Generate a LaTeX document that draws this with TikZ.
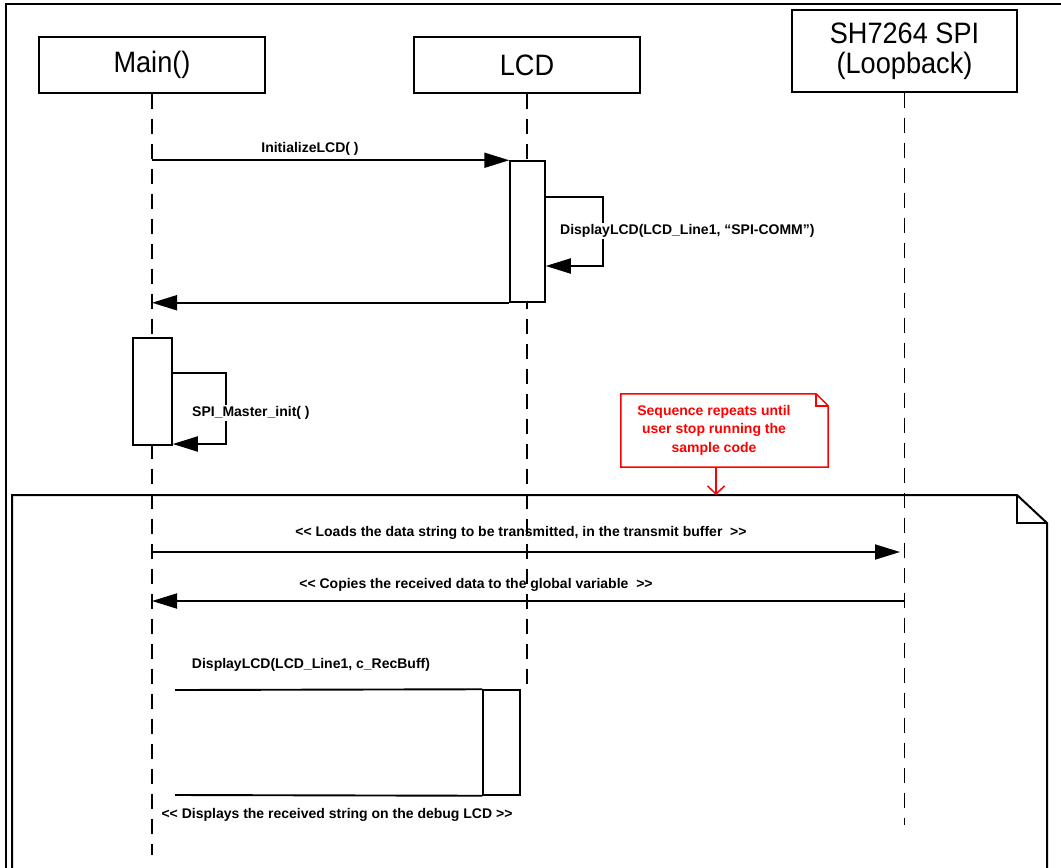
\documentclass[tikz,border=0pt]{standalone}
\usepackage{fontspec}
\setmainfont{Liberation Sans}
\newfontfamily\headfont[FakeStretch=0.92]{Liberation Sans}
\usetikzlibrary{arrows.meta,calc}
\begin{document}
\begin{tikzpicture}[x=1pt,y=-1pt,
  head/.style={draw, line width=1.4pt, inner sep=0pt, align=center, font=\headfont\fontsize{29.5}{30}\selectfont},
  lifeline/.style={line width=1.8pt, dash pattern=on 15pt off 10pt},
  act/.style={draw, fill=white, line width=1.5pt, inner sep=0pt},
  msgline/.style={line width=1.9pt},
  msg/.style={msgline, -{Triangle[length=25pt,width=15pt]}},
  lbl/.style={font=\fontsize{14}{17}\selectfont\bfseries, inner sep=1pt},
  notecol/.style={draw=red, line width=1.5pt},
  notetext/.style={text=red, align=center, font=\fontsize{14}{18.5}\selectfont\bfseries, inner sep=0pt},
  framestyle/.style={line width=2pt}
]
\useasboundingbox (0,0) rectangle (1061,868);

% outer border
\draw[line width=2pt] (6,872) -- (6,4) -- (1065,4);

% lifeline heads
\node[head, minimum width=226pt, minimum height=56pt] (main) at (152,65) {Main()};
\node[head, minimum width=226pt, minimum height=56pt] (lcd) at (527,65) {LCD};
\node[head, minimum width=225pt, minimum height=82pt] (spi) at (904.5,51) {SH7264 SPI\\(Loopback)};

% lifeline ends
\coordinate (mainend) at (152,855);
\coordinate (lcdend) at (527,690);
\coordinate (spiend) at (904.5,825);
\draw[lifeline] (main.south) -- (mainend);
\draw[lifeline] (lcd.south) -- (lcdend);
\draw[lifeline] (spi.south) -- (spiend);

% loop frame
\coordinate (fbl) at (12,872);
\coordinate (ftl) at (12,495);
\coordinate (ffold) at (1017,495);
\coordinate (ffoldb) at (1047,523);
\coordinate (fbr) at (1047,872);
\draw[framestyle] (fbl) -- (ftl) -- (ffold) -- (ffoldb) -- (fbr);
\draw[framestyle] (ffold) -- (ffold |- ffoldb) -- (ffoldb);

% activations
\node[act, minimum width=35pt, minimum height=141pt] (act1) at (527.5,231.5) {};
\node[act, minimum width=39pt, minimum height=107pt] (act2) at (152.5,391.5) {};

% InitializeLCD
\draw[msg] (main.south |- act1.north west) -- (act1.north west);
\node[lbl] (l1) at (310,149) {InitializeLCD( )};

% self call DisplayLCD
\coordinate (lp1a) at (603,197);
\coordinate (lp1b) at (603,266);
\draw[msg] (act1.east |- lp1a) -- (lp1a) -- (lp1b) -- (act1.east |- lp1b);
\node[lbl, fill=white, anchor=west] (l2) at (559,231) {DisplayLCD(LCD\_Line1, “SPI-COMM”)};

% return
\draw[msg] (act1.south west) -- (main.south |- act1.south west);

% SPI_Master_init self call
\coordinate (lp2a) at (226,373);
\coordinate (lp2b) at (226,444);
\draw[msg] (act2.east |- lp2a) -- (lp2a) -- (lp2b) -- (act2.east |- lp2b);
\node[lbl, fill=white, anchor=west] (l3) at (191,413) {SPI\_Master\_init( )};

% note
\node[minimum width=207pt, minimum height=73pt, inner sep=0pt] (note) at (724.5,430.5) {};
\draw[notecol, fill=white] (note.north west) -- ($(note.north east)+(-12,0)$) -- ($(note.north east)+(0,12)$) -- (note.south east) -- (note.south west) -- cycle;
\draw[notecol] ($(note.north east)+(-12,0)$) -- ($(note.north east)+(-12,12)$) -- ($(note.north east)+(0,12)$);
\node[notetext] (nt) at (714,430) {Sequence repeats until\\user stop running the\\sample code};
\coordinate (ntip) at (716,495);
\draw[notecol, -{Straight Barb[length=8pt,width=17pt,line width=1.5pt]}] (note.south -| ntip) -- (ntip);

% messages in loop
\coordinate (c3) at (900,552);
\draw[msg] (main.south |- c3) -- (c3);
\node[lbl] (l4) at (521,533) {<{}< Loads the data string to be transmitted, in the transmit buffer \ >{}>};

\coordinate (c4) at (904.5,601);
\draw[msg] (c4) -- (main.south |- c4);
\node[lbl] (l5) at (476,585) {<{}< Copies the received data to the global variable \ >{}>};

% DisplayLCD c_RecBuff
\node[lbl] (l6) at (311,665) {DisplayLCD(LCD\_Line1, c\_RecBuff)};
\node[act, minimum width=37pt, minimum height=105pt] (act3) at (501.5,742.5) {};
\coordinate (d1) at (175,690);
\coordinate (d2) at (175,795);
\draw[msgline] (d1) -- (act3.north west);
\draw[msgline] (d2) -- (act3.south west);
\node[lbl] (l7) at (337,815) {<{}< Displays the received string on the debug LCD >{}>};
\end{tikzpicture}
\end{document}
